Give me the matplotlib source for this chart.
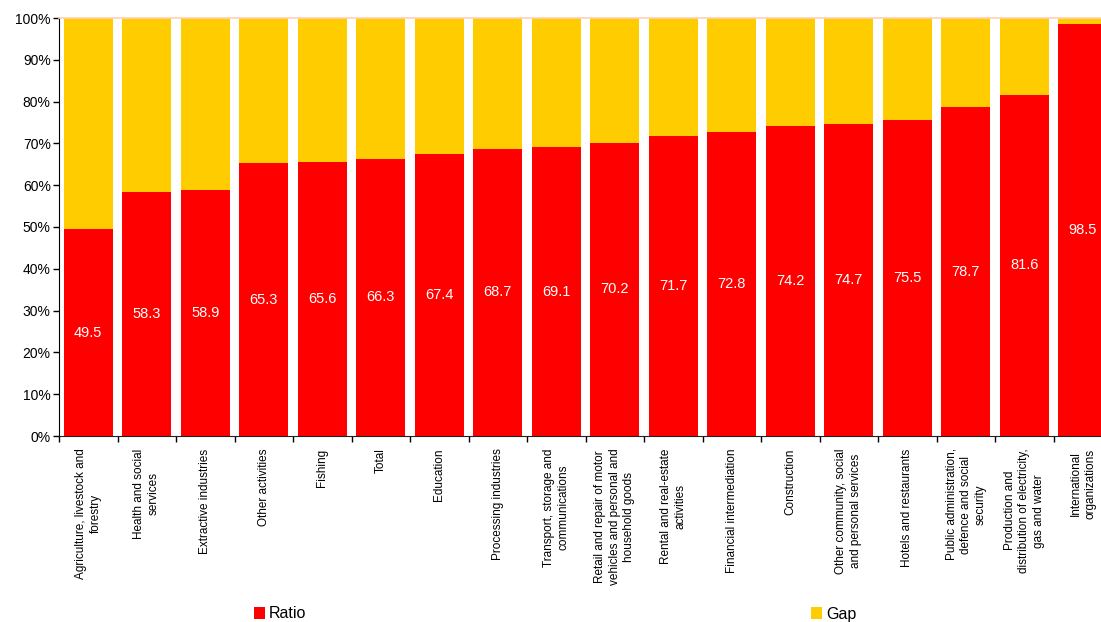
import matplotlib
matplotlib.use("Agg")
import matplotlib.pyplot as plt
from matplotlib.patches import Patch
import numpy as np

categories = [
    "Agriculture, livestock and\nforestry",
    "Health and social\nservices",
    "Extractive industries",
    "Other activities",
    "Fishing",
    "Total",
    "Education",
    "Processing industries",
    "Transport, storage and\ncommunications",
    "Retail and repair of motor\nvehicles and personal and\nhousehold goods",
    "Rental and real-estate\nactivities",
    "Financial intermediation",
    "Construction",
    "Other community, social\nand personal services",
    "Hotels and restaurants",
    "Public administration,\ndefence and social\nsecurity",
    "Production and\ndistribution of electricity,\ngas and water",
    "International\norganizations",
]
ratio = [49.5, 58.3, 58.9, 65.3, 65.6, 66.3, 67.4, 68.7, 69.1, 70.2,
         71.7, 72.8, 74.2, 74.7, 75.5, 78.7, 81.6, 98.5]
gap = [100 - r for r in ratio]
yticks = [0, 10, 20, 30, 40, 50, 60, 70, 80, 90, 100]
ytick_labels = [f"{t}%" for t in yticks]

RED = "#FF0000"
YELLOW = "#FFCC00"

plt.rcParams['font.family'] = ['Liberation Sans', 'DejaVu Sans']

W, H = 1101, 622
fig = plt.figure(figsize=(W / 100, H / 100), dpi=100)
left = 59 / W
bottom = (H - 436) / H
height = (436 - 18) / H
width = 18 * 58.5 / W
ax = fig.add_axes([left, bottom, width, height])

x = np.arange(len(categories))
bw = 0.84
ax.bar(x, ratio, width=bw, color=RED, zorder=2)
ax.bar(x, gap, bottom=ratio, width=bw, color=YELLOW, zorder=2)

for xi, r in zip(x, ratio):
    ax.text(xi, r / 2, f"{r:.1f}", color="white", ha="center", va="center",
            fontsize=10.5, zorder=3)

ax.set_xlim(-0.5, len(categories) - 0.5)
ax.set_ylim(0, 100)
ax.set_yticks(yticks)
ax.set_yticklabels(ytick_labels, fontsize=10)
ax.tick_params(axis='y', length=4, width=1, pad=2, colors='black')

ax.set_xticks(x)
ax.set_xticklabels(categories, rotation=90, fontsize=8.5, ha='center', va='top',
                   multialignment='center', linespacing=1.3)
ax.tick_params(axis='x', which='major', length=0, pad=9)
ax.set_xticks(np.arange(-0.5, len(categories), 1.0), minor=True)
ax.tick_params(axis='x', which='minor', length=4, width=1, color='black')

for s in ['right']:
    ax.spines[s].set_visible(False)
ax.spines['top'].set_color('#FFD0B8')
ax.spines['top'].set_linewidth(1.2)
ax.spines['left'].set_color('black')
ax.spines['bottom'].set_color('#222222')

handles = [Patch(facecolor=RED, edgecolor='none', label='Ratio'),
           Patch(facecolor=YELLOW, edgecolor='none', label='Gap')]
fig.legend(handles=handles, ncol=2, loc='center left',
           bbox_to_anchor=(254 / W, 1 - 614 / H), frameon=False,
           borderpad=0, borderaxespad=0, handlelength=0.7, handleheight=0.7,
           handletextpad=0.25, columnspacing=31.6, fontsize=11.5)

fig.savefig("out.png", dpi=100)
